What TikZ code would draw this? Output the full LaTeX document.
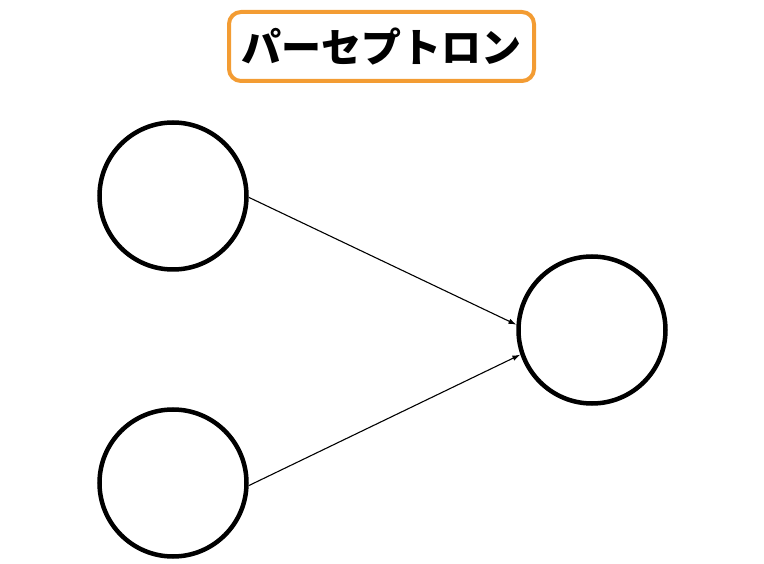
\documentclass[tikz,border=0pt]{standalone}
\usepackage{fontspec}
\newfontfamily\cjk{Noto Sans CJK JP}
\usetikzlibrary{arrows.meta}
\definecolor{crayon}{RGB}{243,156,51}
\begin{document}
\begin{tikzpicture}[>={Latex[length=8pt,width=5.5pt]}, x=1pt, y=-1pt,
    unit/.style={circle, draw, line width=4.5pt, minimum size=147pt, inner sep=0pt},
    titlebox/.style={draw=crayon, line width=4pt, rounded corners=12pt,
        minimum width=305pt, minimum height=69pt, font=\cjk\bfseries\fontsize{40}{40}\selectfont}]
\useasboundingbox (0,0) rectangle (764,564);

\node[titlebox] (title) at (381.5,46.5) {パーセプトロン};

\node[unit] (in1) at (173,196) {};
\node[unit] (in2) at (173,483) {};
\node[unit] (out) at (592,330) {};

\draw[->, line width=1.1pt] (in1.-1.5) -- (out.176);
\draw[->, line width=1.1pt] (in2.-2.3) -- (out.199);

\end{tikzpicture}
\end{document}
